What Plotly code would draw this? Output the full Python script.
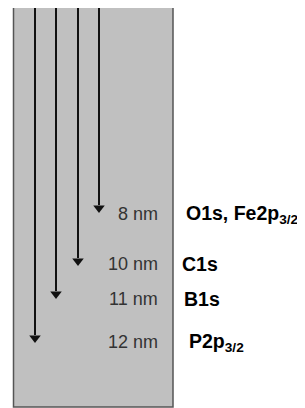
import plotly.graph_objects as go

# Schematic data
depth_nm = [8, 10, 11, 12]
depth_labels = ["8 nm", "10 nm", "11 nm", "12 nm"]
core_levels = ["O1s, Fe2p<sub>3/2</sub>", "C1s", "B1s", "P2p<sub>3/2</sub>"]
arrow_x = [99, 78, 56, 35]          # horizontal slot of each arrow
arrow_tip = [213, 266, 299, 343]     # how far each arrow reaches (schematic units)
label_y = [214, 264, 299, 342]       # row position of each label
core_x = [184, 180, 182, 187]
surface_y = 7
sample_left, sample_right, sample_bottom = 13.5, 173, 407

fig = go.Figure()

fig.add_shape(type="rect", x0=sample_left, x1=sample_right, y0=surface_y, y1=sample_bottom,
              fillcolor="#c0c0c0", line=dict(color="#555555", width=1.5), layer="below")

for xa, tip in zip(arrow_x, arrow_tip):
    fig.add_trace(go.Scatter(x=[xa, xa], y=[surface_y, tip - 8], mode="lines",
                             line=dict(color="#111111", width=2), hoverinfo="skip",
                             showlegend=False))
    fig.add_trace(go.Scatter(x=[xa], y=[tip - 5], mode="markers",
                             marker=dict(symbol="triangle-down", size=10, color="#111111",
                                         line=dict(width=0)),
                             hoverinfo="skip", showlegend=False))

for lab, y in zip(depth_labels, label_y):
    fig.add_annotation(x=160, y=y, text=lab, showarrow=False, xanchor="right", yanchor="middle",
                       font=dict(family="Liberation Sans, Arial", size=18, color="#333333"))

for lab, y, x in zip(core_levels, label_y, core_x):
    fig.add_annotation(x=x, y=y, text="<b>" + lab + "</b>", showarrow=False, xanchor="left",
                       yanchor="middle",
                       font=dict(family="Liberation Sans, Arial", size=19.5, color="#000000"))

# page body has an 8px margin: offset the ranges so axis units equal page pixels
fig.update_layout(width=305, height=408, margin=dict(l=0, r=0, t=0, b=0),
                  paper_bgcolor="white", plot_bgcolor="white",
                  xaxis=dict(range=[8, 313], visible=False, fixedrange=True),
                  yaxis=dict(range=[416, 8], visible=False, fixedrange=True))

fig.write_html("out.html")
